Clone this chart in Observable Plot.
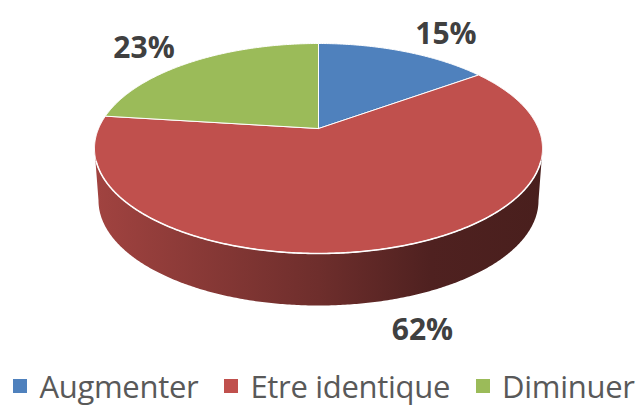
<!DOCTYPE html>
<html>
<head>
<meta charset="utf-8">
<script src="https://cdn.jsdelivr.net/npm/d3@7"></script>
<script src="https://cdn.jsdelivr.net/npm/@observablehq/plot@0.6"></script>
<style>
  html, body { margin: 0; padding: 0; background: #fff; }
  #chart { width: 644px; height: 408px; overflow: hidden; }
  .legend { display: flex; justify-content: center; align-items: center; height: 48px; width: 644px;
    font-family: "Open Sans", sans-serif; font-size: 31px; letter-spacing: -0.3px; color: #595959;
    padding-top: 4px; padding-left: 4px; box-sizing: border-box; white-space: nowrap; }
  .legend .item { display: flex; align-items: center; margin: 0 13px; flex-shrink: 0; white-space: nowrap; }
  .legend .sw { width: 14px; height: 14px; margin-right: 12px; flex-shrink: 0; }
</style>
</head>
<body>
<div id="chart"></div>
<script>
// ---- data ----
const categories = ["Augmenter", "Etre identique", "Diminuer"];
const values = [15, 62, 23];
const valueLabels = ["15%", "62%", "23%"];
const colors = ["#4f81bd", "#c0504d", "#9bbb59"];

// ---- layout ----
const W = 644, H = 360;
const cx = 318, cy = 148, rx = 224, ry = 105, k = 0.19, depth = 52, rxB = 220;
const TAU = Math.PI * 2;

function proj(t, r = rx, dy = 0) {
  const c = Math.cos(t), s = Math.sin(t), d = 1 + k * c;
  return [cx + r * s * Math.sqrt(1 - k * k) / d, cy - ry * (c + k) / d + dy];
}
const apex = [cx, cy - ry * k];
const thR = Math.acos(-k), thL = TAU - Math.acos(-k);

const total = d3.sum(values);
let acc = 0;
const slices = categories.map((cat, i) => {
  const a0 = acc / total * TAU; acc += values[i];
  const a1 = acc / total * TAU;
  return {cat, i, a0, a1, value: values[i], label: valueLabels[i]};
});

function arcPts(a, b, r, dy) {
  const n = Math.max(2, Math.ceil(Math.abs(b - a) / (TAU / 720)));
  return d3.range(n + 1).map(j => proj(a + (b - a) * j / n, r, dy));
}

const topPts = slices.flatMap(s => [apex, ...arcPts(s.a0, s.a1, rx, 0), apex]
  .map(([x, y]) => ({cat: s.cat, x, y})));

const sideMarks = slices.flatMap(s => {
  const lo = Math.max(s.a0, thR), hi = Math.min(s.a1, thL);
  if (!(lo < hi)) return [];
  const pts = [...arcPts(lo, hi, rx, 0), ...arcPts(hi, lo, rxB, depth)];
  pts.push(pts[0]);
  return [Plot.line(pts.map(([x, y]) => ({x, y})), {x: "x", y: "y", fill: `url(#side-${s.i})`, stroke: "none"})];
});

const rimPts = arcPts(thR + 0.12, thL - 0.12, rx, 0).map(([x, y]) => ({x, y}));

const labelData = slices.map(s => {
  const m = (s.a0 + s.a1) / 2, sn = Math.sin(m), cs = Math.cos(m);
  const p = proj(m);
  return {
    text: s.label,
    x: p[0] + 25 * sn,
    y: p[1] - 25 * cs + (cs < 0 ? depth : 0) + 5,
    anchor: sn > 0.05 ? "start" : sn < -0.05 ? "end" : "middle"
  };
});
const labelMarks = ["start", "end", "middle"].map(a =>
  Plot.text(labelData.filter(d => d.anchor === a), {
    x: "x", y: "y", text: "text", textAnchor: a, lineAnchor: "middle",
    fontFamily: "Open Sans", fontWeight: "bold", fontSize: 30, fill: "#404040"
  }));

const svg = Plot.plot({
  width: W, height: H, margin: 0,
  style: {background: "white", overflow: "visible"},
  x: {domain: [0, W], axis: null},
  y: {domain: [0, H], range: [0, H], axis: null},
  color: {domain: categories, range: colors},
  marks: [
    ...sideMarks,
    Plot.line(topPts, {x: "x", y: "y", z: "cat", fill: "cat", stroke: "white", strokeWidth: 1, strokeLinejoin: "round"}),
    Plot.line(rimPts, {x: "x", y: "y", stroke: "white", strokeWidth: 1.6, strokeOpacity: 0.95}),
    ...labelMarks
  ]
});

// gradients for the side walls
const defs = d3.select(svg).insert("defs", ":first-child");
slices.forEach(s => {
  const base = d3.color(colors[s.i]);
  const g = defs.append("linearGradient").attr("id", `side-${s.i}`)
    .attr("x1", 0).attr("x2", 1).attr("y1", 0).attr("y2", 0);
  [[0, 0.5], [0.5, 1.55], [0.75, 2.5], [1, 2.7]].forEach(([o, dk]) =>
    g.append("stop").attr("offset", o).attr("stop-color", base.darker(dk).formatHex()));
});

const chart = document.getElementById("chart");
chart.appendChild(svg);

const legend = document.createElement("div");
legend.className = "legend";
categories.forEach((c, i) => {
  const it = document.createElement("div"); it.className = "item";
  const sw = document.createElement("span"); sw.className = "sw"; sw.style.background = colors[i];
  const tx = document.createElement("span"); tx.textContent = c;
  it.appendChild(sw); it.appendChild(tx); legend.appendChild(it);
});
chart.appendChild(legend);
</script>
</body>
</html>
